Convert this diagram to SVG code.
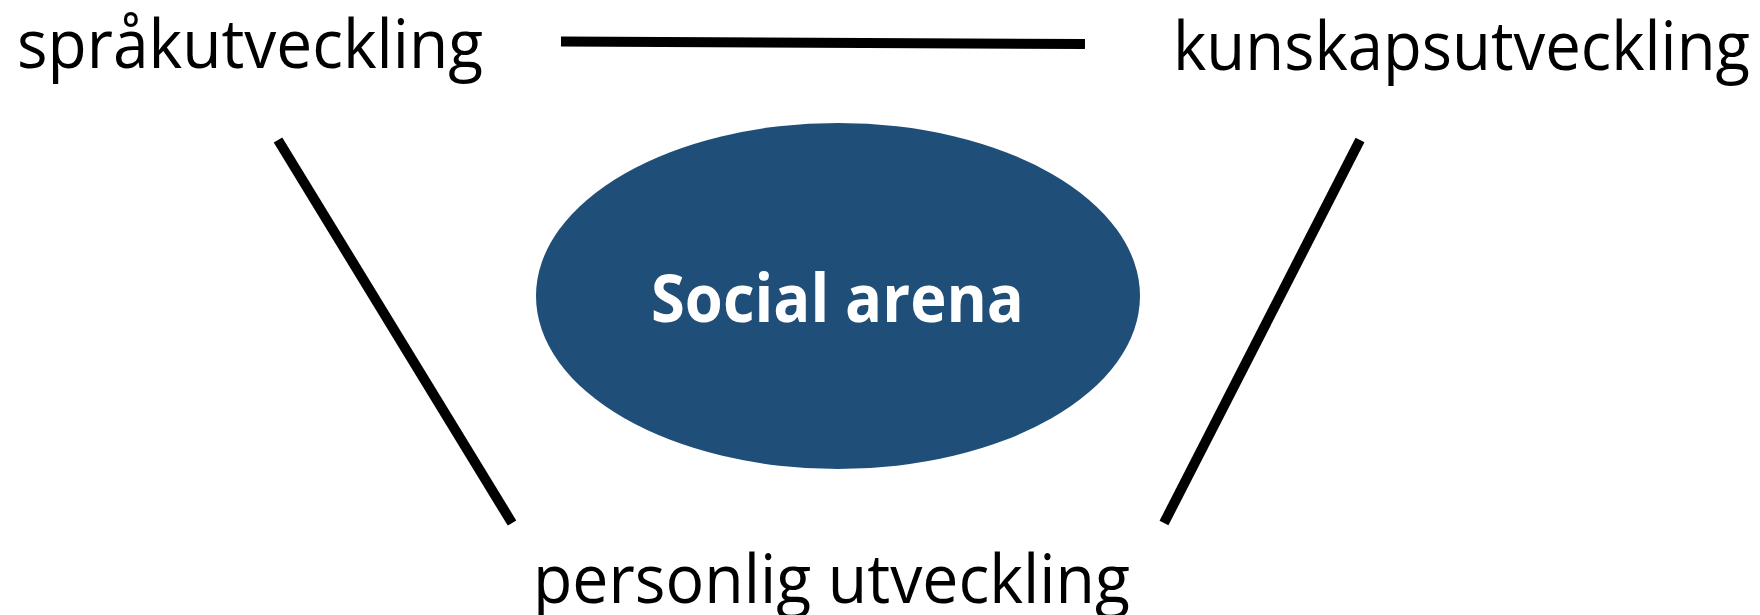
<svg xmlns="http://www.w3.org/2000/svg" width="1760" height="615" viewBox="0 0 1760 615">
<style>
.lbl{font-family:"Open Sans","Noto Sans","Liberation Sans",sans-serif;font-size:68px;fill:#000}
.title{font-family:"Open Sans","Noto Sans","Liberation Sans",sans-serif;font-size:67px;font-weight:bold;fill:#fff}
.conn{stroke:#000;stroke-width:10;fill:none}
</style>
<rect width="1760" height="615" fill="#fff"/>
<g id="connectors">
<line class="conn" x1="561" y1="41.5" x2="1085" y2="44"/>
<line class="conn" x1="278" y1="140" x2="512" y2="523"/>
<line class="conn" x1="1360" y1="140" x2="1164" y2="523"/>
</g>
<g id="social-arena">
<ellipse cx="838" cy="296" rx="302" ry="173" fill="#1F4E79"/>
<text class="title" x="651" y="322" textLength="373" lengthAdjust="spacingAndGlyphs">Social arena</text>
</g>
<g id="sprakutveckling">
<text class="lbl" x="17" y="68" textLength="466" lengthAdjust="spacingAndGlyphs">språkutveckling</text>
</g>
<g id="kunskapsutveckling">
<text class="lbl" x="1173" y="70" textLength="577" lengthAdjust="spacingAndGlyphs">kunskapsutveckling</text>
</g>
<g id="personlig-utveckling">
<text class="lbl" x="533" y="603" textLength="597" lengthAdjust="spacingAndGlyphs">personlig utveckling</text>
</g>
</svg>
